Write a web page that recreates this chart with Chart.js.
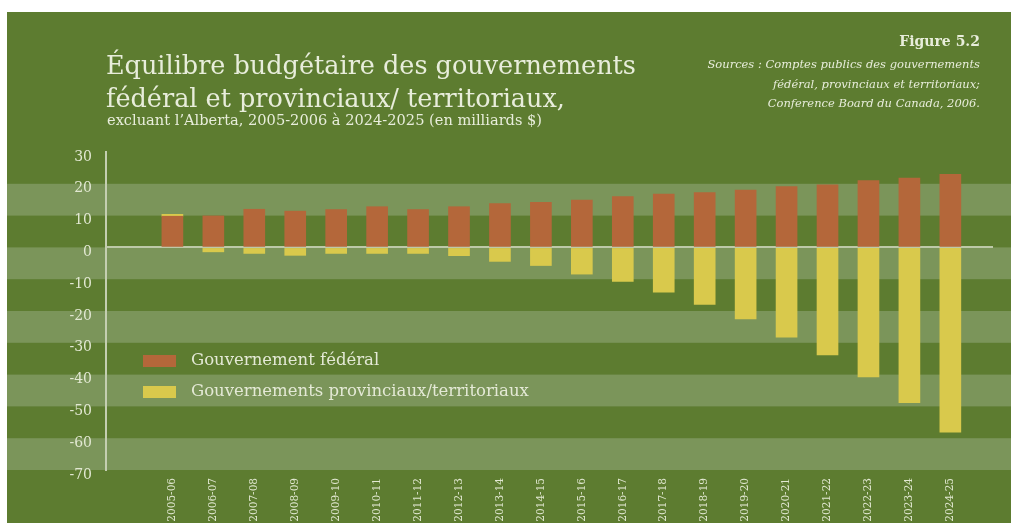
<!DOCTYPE html>
<html>
<head>
<meta charset="utf-8">
<script src="https://cdn.jsdelivr.net/npm/chart.js@4.4.1/dist/chart.umd.min.js"></script>
<style>
    html, body { margin: 0; padding: 0; background: #ffffff; }
    #wrap { position: relative; width: 1011px; height: 523px; overflow: hidden; }
    #chart { position: absolute; left: 0; top: 0; }
    .txt { position: absolute; font-family: "DejaVu Serif", serif; color: #e8eddb; white-space: nowrap; }
    #title { left: 106px; top: 49px; font-size: 25.5px; line-height: 33px; }
    #subtitle { left: 107px; top: 112px; font-size: 14.6px; line-height: 15px; }
    #figure { right: 31px; top: 33px; font-size: 14px; font-weight: bold; line-height: 16px; text-align: right; }
    #sources { right: 31px; top: 55px; font-size: 11.5px; font-style: italic; line-height: 19.5px; text-align: right; }
    .legend { position: absolute; left: 143px; font-family: "DejaVu Serif", serif; font-size: 16.5px; color: #e4e9d6; white-space: nowrap; }
    .legend span.sw { display: inline-block; width: 33px; height: 12px; margin-right: 15px; vertical-align: -2px; }
</style>
</head>
<body>
<div id="wrap">
    <canvas id="chart" width="1011" height="523"></canvas>
    <div id="title" class="txt">Équilibre budgétaire des gouvernements<br>fédéral et provinciaux/ territoriaux,</div>
    <div id="subtitle" class="txt">excluant l’Alberta, 2005-2006 à 2024-2025 (en milliards $)</div>
    <div id="figure" class="txt">Figure 5.2</div>
    <div id="sources" class="txt">Sources : Comptes publics des gouvernements<br>fédéral, provinciaux et territoriaux;<br>Conference Board du Canada, 2006.</div>
    <div id="leg1" class="legend" style="top:350px"><span class="sw"></span>Gouvernement fédéral</div>
    <div id="leg2" class="legend" style="top:381px"><span class="sw"></span>Gouvernements provinciaux/territoriaux</div>
</div>
<script>
const years = ['2005-06', '2006-07', '2007-08', '2008-09', '2009-10', '2010-11', '2011-12', '2012-13', '2013-14', '2014-15',
    '2015-16', '2016-17', '2017-18', '2018-19', '2019-20', '2020-21', '2021-22', '2022-23', '2023-24', '2024-25'];
const federal = [9.8, 9.9, 12.0, 11.4, 11.9, 12.8, 11.9, 12.8, 13.8, 14.2, 14.9, 16.0, 16.8, 17.2, 18.0, 19.1, 19.7, 21.0, 21.8, 23.0];
const provincial = [0.6, -1.4, -1.9, -2.5, -1.9, -1.9, -1.9, -2.6, -4.4, -5.7, -8.4, -10.7, -14.1, -17.9, -22.5, -28.2, -33.8, -40.7, -48.8, -58.1];
const seriesNames = ['Gouvernement fédéral', 'Gouvernements provinciaux/territoriaux'];
const yMin = -70;
const yMax = 30;

const darkGreen = '#5d7c30';
const lightGreen = '#7b955a';
const brown = '#b4673a';
const yellow = '#d9c94c';
const textColor = '#e2e8d2';

document.querySelector('#leg1 .sw').style.background = brown;
document.querySelector('#leg2 .sw').style.background = yellow;

// green panel and the horizontal stripes every 10
const bandPlugin = {
    id: 'bands',
    beforeDraw(chart) {
        const ctx = chart.ctx;
        const y = chart.scales.y;
        ctx.save();
        ctx.fillStyle = darkGreen;
        ctx.fillRect(7, 12, chart.width - 7, chart.height - 12);
        ctx.fillStyle = lightGreen;
        for (let v = 20; v > yMin; v -= 20) {
            const top = y.getPixelForValue(v);
            const bottom = y.getPixelForValue(v - 10);
            ctx.fillRect(7, top, chart.width - 7, bottom - top);
        }
        ctx.restore();
    }
};

const ctx = document.getElementById('chart').getContext('2d');
new Chart(ctx, {
    type: 'bar',
    data: {
        datasets: [{
            label: seriesNames[0],
            data: federal.map((v, i) => ({ x: i, y: v })),
            backgroundColor: brown,
            barThickness: 21
        }, {
            label: seriesNames[1],
            data: provincial.map((v, i) => ({ x: i, y: v })),
            backgroundColor: yellow,
            barThickness: 21
        }]
    },
    options: {
        responsive: false,
        animation: false,
        layout: { padding: { top: 152, right: 18, left: 0, bottom: 0 } },
        plugins: {
            legend: { display: false },
            tooltip: { enabled: false }
        },
        scales: {
            x: {
                type: 'linear',
                stacked: true,
                min: -1.08,
                max: 19.5,
                afterBuildTicks: axis => { axis.ticks = years.map((_, i) => ({ value: i })); },
                afterFit: scale => { scale.height = 53; },
                grid: { display: false },
                border: { display: false },
                ticks: {
                    autoSkip: false,
                    minRotation: 90,
                    maxRotation: 90,
                    padding: 0,
                    color: textColor,
                    font: { family: 'DejaVu Serif', size: 10.5 },
                    callback: value => years[value]
                }
            },
            y: {
                stacked: true,
                min: yMin,
                max: yMax,
                afterFit: scale => { scale.width = 106; },
                grid: {
                    drawTicks: false,
                    lineWidth: 2,
                    color: c => c.tick && c.tick.value === 0 ? '#bdc9a8' : 'rgba(0,0,0,0)'
                },
                border: { display: true, color: '#c4ceb1', width: 2 },
                ticks: {
                    stepSize: 10,
                    padding: 14,
                    labelOffset: 5,
                    color: textColor,
                    font: { family: 'DejaVu Serif', size: 14 }
                }
            }
        }
    },
    plugins: [bandPlugin]
});
</script>
</body>
</html>
